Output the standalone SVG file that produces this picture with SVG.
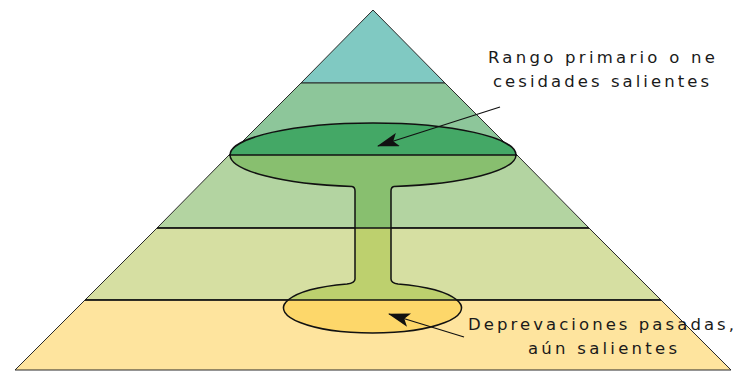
<svg xmlns="http://www.w3.org/2000/svg" width="737" height="371" viewBox="0 0 737 371">
<style>
.layer{stroke:#2a2a2a;stroke-width:1}
.sep{stroke:#111;stroke-width:1.6}
.outline{fill:none;stroke:#111;stroke-width:1.5}
.lbl{font-family:"DejaVu Sans",Verdana,sans-serif;font-size:16.5px;fill:#1a1a1a}
.arr{stroke:#111;stroke-width:1.3;fill:none}
</style>
<defs>
<linearGradient id="gob" gradientUnits="userSpaceOnUse" x1="0" y1="0" x2="0" y2="371">
<stop offset="0" stop-color="#44a866"/>
<stop offset="0.4178" stop-color="#44a866"/>
<stop offset="0.4178" stop-color="#88bf6f"/>
<stop offset="0.6146" stop-color="#88bf6f"/>
<stop offset="0.6146" stop-color="#bdd06e"/>
<stop offset="0.8086" stop-color="#bdd06e"/>
<stop offset="0.8086" stop-color="#fdd76a"/>
<stop offset="1" stop-color="#fdd76a"/>
</linearGradient>
<marker id="ah" markerWidth="22" markerHeight="14" refX="21" refY="7" orient="auto" markerUnits="userSpaceOnUse">
<path d="M0,0 L22,7 L0,14 L5,7 Z" fill="#111"/>
</marker>
</defs>
<g id="layer1"><polygon class="layer" points="373,10 445,83 301,83" fill="#80c9c2"/></g>
<g id="layer2"><polygon class="layer" points="301,83 445,83 517,155 229,155" fill="#8dc69a"/></g>
<g id="layer3"><polygon class="layer" points="229,155 517,155 589,228 157,228" fill="#b3d4a1"/></g>
<g id="layer4"><polygon class="layer" points="157,228 589,228 661,300 85,300" fill="#d6dfa2"/></g>
<g id="layer5"><polygon class="layer" points="85,300 661,300 731,370 15,370" fill="#fee49e"/></g>
<g id="goblet">
<path fill="url(#gob)" d="M230,155 A143,32 0 0 1 516,155 A143,32 0 0 1 394,186.5 Q391,187 391,191 L391,279 Q391,283 398,284 A89,25 0 1 1 347,284 Q355,283 355,279 L355,191 Q355,187 352,186.5 A143,32 0 0 1 230,155 Z"/>
<line class="sep" x1="229" y1="155" x2="517" y2="155"/>
<line class="sep" x1="157" y1="228" x2="589" y2="228"/>
<line class="sep" x1="85" y1="300" x2="661" y2="300"/>
<path class="outline" d="M230,155 A143,32 0 0 1 516,155 A143,32 0 0 1 394,186.5 Q391,187 391,191 L391,279 Q391,283 398,284 A89,25 0 1 1 347,284 Q355,283 355,279 L355,191 Q355,187 352,186.5 A143,32 0 0 1 230,155 Z"/>
</g>
<g id="connectors">
<line class="arr" x1="500" y1="107" x2="378" y2="146" marker-end="url(#ah)"/>
<line class="arr" x1="464" y1="337" x2="389" y2="314" marker-end="url(#ah)"/>
</g>
<g id="label-top">
<text class="lbl" x="488" y="63" textLength="227" lengthAdjust="spacing">Rango primario o ne</text>
<text class="lbl" x="493" y="87" textLength="216" lengthAdjust="spacing">cesidades salientes</text>
</g>
<g id="label-bottom">
<text class="lbl" x="468" y="330" textLength="266" lengthAdjust="spacing">Deprevaciones pasadas,</text>
<text class="lbl" x="528" y="354" textLength="149" lengthAdjust="spacing">aún salientes</text>
</g>
</svg>
